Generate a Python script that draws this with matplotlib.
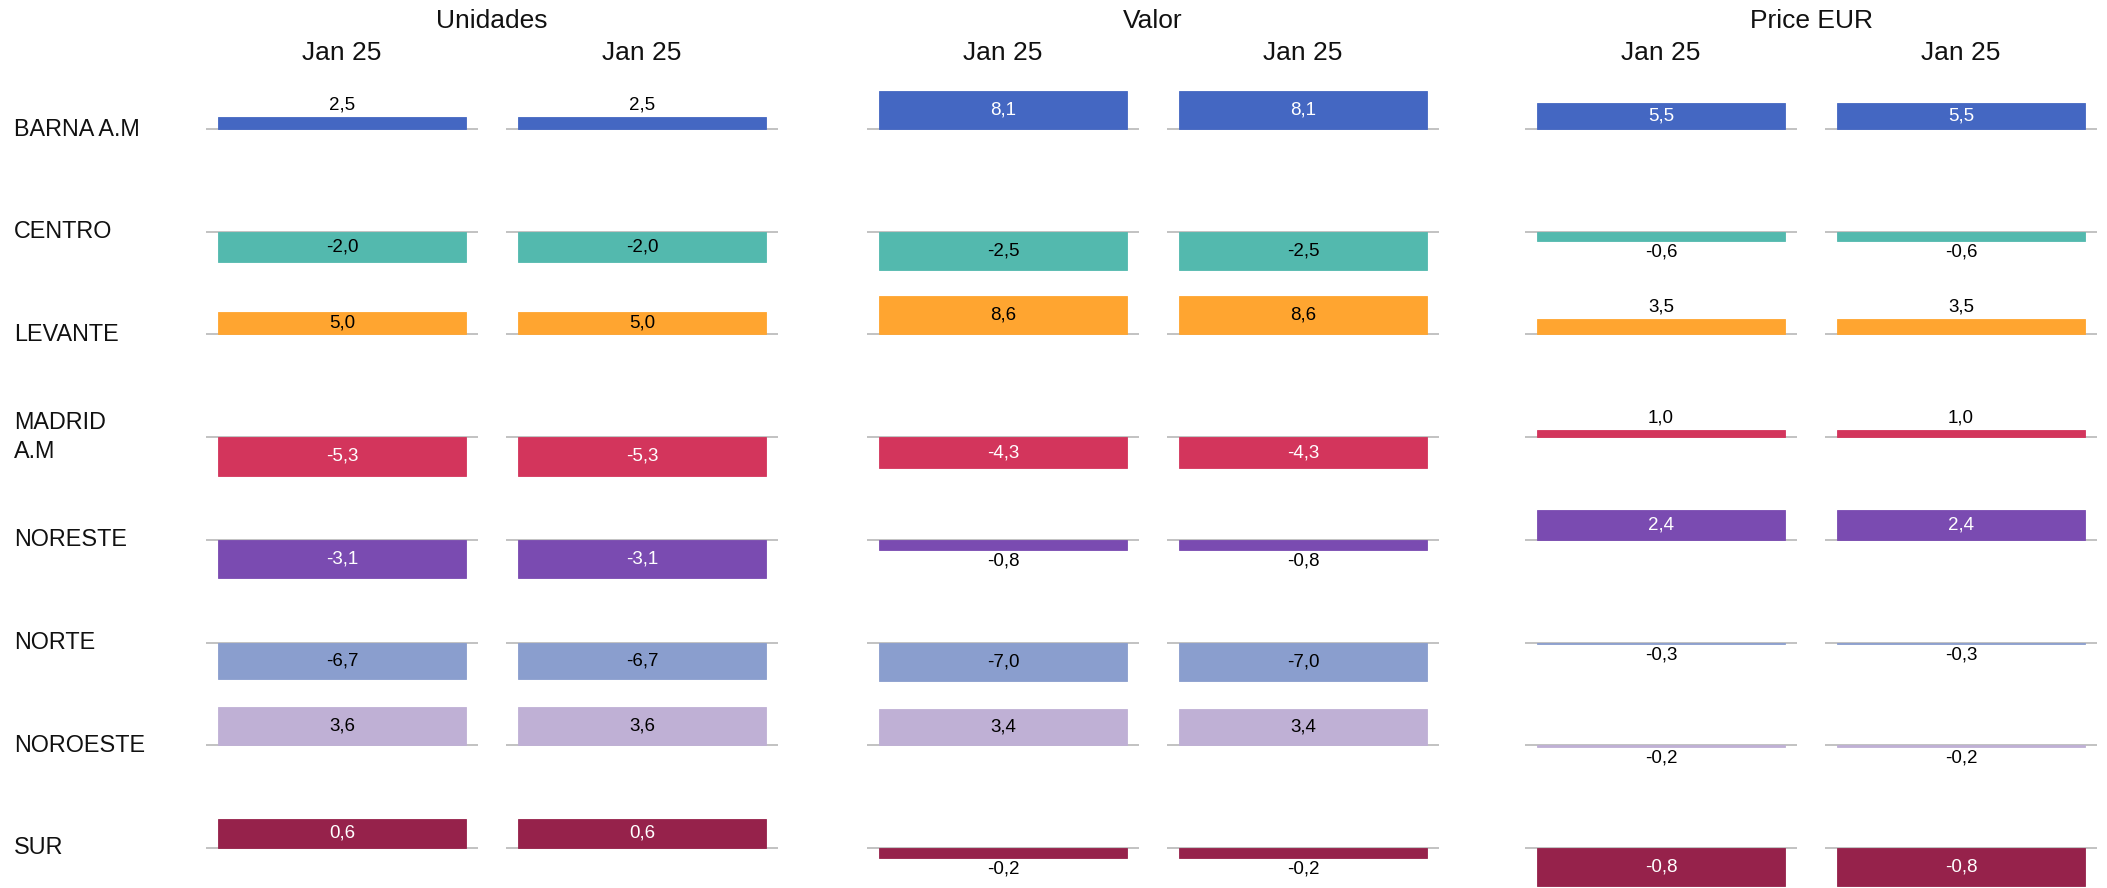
import matplotlib
matplotlib.use("Agg")
import matplotlib.pyplot as plt

plt.rcParams['font.family'] = ['Liberation Sans', 'DejaVu Sans']

# ---- data ----
regions = ["BARNA A.M", "CENTRO", "LEVANTE", "MADRID\nA.M", "NORESTE", "NORTE", "NOROESTE", "SUR"]
groups = ["Unidades", "Valor", "Price EUR"]
periods = ["Jan 25", "Jan 25"]
unidades = [2.5, -2.0, 5.0, -5.3, -3.1, -6.7, 3.6, 0.6]
valor = [8.1, -2.5, 8.6, -4.3, -0.8, -7.0, 3.4, -0.2]
price_eur = [5.5, -0.6, 3.5, 1.0, 2.4, -0.3, -0.2, -0.8]
colors = ["#4467C2", "#53B9AE", "#FFA530", "#D3355C", "#7A4BB1", "#8A9ECE", "#BFB0D5", "#96224B"]
inside_text = ["white", "black", "black", "white", "white", "black", "black", "white"]

series = [unidades, valor, price_eur]

# ---- layout (pixels) ----
W, H = 2107, 888
fig = plt.figure(figsize=(W / 100, H / 100), dpi=100)
col_left = [206, 506, 867, 1167, 1525, 1825]
col_w = 272
row_base0, row_step = 129, 102.7
bar_px = 38.5   # pixels for row max
half_px = 46

def fmt(v):
    return f"{v:.1f}".replace('.', ',')

for r, reg in enumerate(regions):
    base_y = row_base0 + r * row_step
    row_vals = [s[r] for s in series]
    m = max(abs(v) for v in row_vals)
    L = m * half_px / bar_px
    fig.text(14 / W, 1 - base_y / H, reg, fontsize=16.8, va='center', ha='left',
             color='#111111', linespacing=1.3)
    for g, vals in enumerate(series):
        for p in range(len(periods)):
            c = g * 2 + p
            ax = fig.add_axes([col_left[c] / W, 1 - (base_y + half_px) / H,
                               col_w / W, 2 * half_px / H])
            ax.set_xlim(-0.55, 0.55)
            ax.set_ylim(-L, L)
            ax.axis('off')
            v = vals[r]
            ax.axhline(0, color='#c2c2c2', lw=1.4, zorder=1)
            ax.bar([0], [v], width=1.0, color=colors[r], edgecolor=colors[r],
                   linewidth=0.6, zorder=2)
            if abs(v) / m >= 0.5:
                ax.text(0, v / 2, fmt(v), ha='center', va='center', fontsize=13.5,
                        color=inside_text[r], zorder=3)
            else:
                off = 8.5 if v >= 0 else -8.0
                ax.annotate(fmt(v), xy=(0, v), xytext=(0, off), textcoords='offset points',
                            ha='center', va='center', fontsize=13.5, color='black',
                            annotation_clip=False, zorder=3)

# headers
for g, name in enumerate(groups):
    l = col_left[2 * g]
    r_ = col_left[2 * g + 1] + col_w
    fig.text((l + r_) / 2 / W, 1 - 21 / H, name, fontsize=19, ha='center', va='center',
             color='#111111')
    for p, per in enumerate(periods):
        c = 2 * g + p
        fig.text((col_left[c] + col_w / 2) / W, 1 - 53 / H, per, fontsize=19,
                 ha='center', va='center', color='#111111')

fig.savefig("out.png", dpi=100, facecolor='white')
